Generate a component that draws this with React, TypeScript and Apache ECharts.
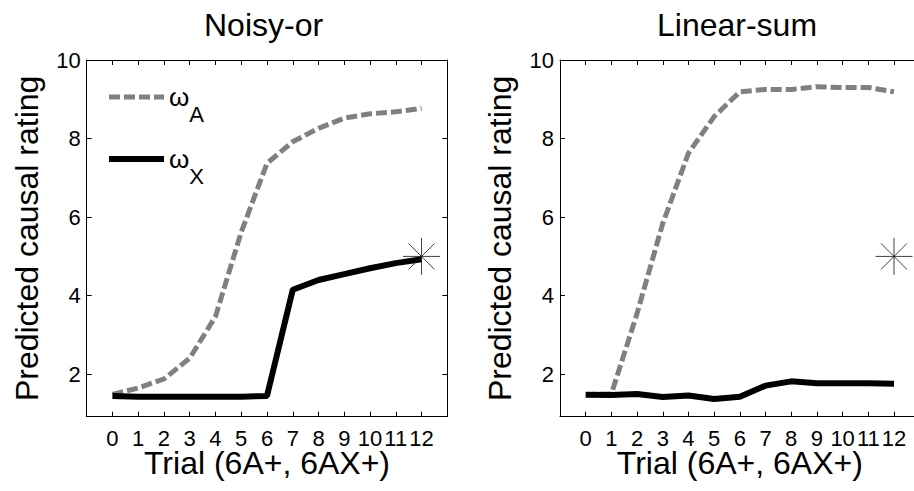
import React, { useEffect, useRef } from "react";
import * as echarts from "echarts";

const trials = [0, 1, 2, 3, 4, 5, 6, 7, 8, 9, 10, 11, 12];
const noisyOrA = [1.49, 1.65, 1.88, 2.41, 3.47, 5.62, 7.37, 7.92, 8.26, 8.52, 8.63, 8.68, 8.77];
const noisyOrX = [1.45, 1.43, 1.43, 1.43, 1.43, 1.43, 1.45, 4.15, 4.4, 4.55, 4.7, 4.83, 4.93];
const linearSumA = [1.48, 1.5, 3.55, 5.84, 7.63, 8.56, 9.19, 9.25, 9.25, 9.32, 9.3, 9.3, 9.19];
const linearSumX = [1.48, 1.47, 1.5, 1.42, 1.46, 1.37, 1.43, 1.71, 1.82, 1.77, 1.77, 1.77, 1.76];
const observedTrial = 12;
const observedRating = 5;
const yTickValues = [2, 4, 6, 8, 10];
const panelTitles = ["Noisy-or", "Linear-sum"];
const xAxisName = "Trial (6A+, 6AX+)";
const yAxisName = "Predicted causal rating";
const seriesNames = ["ωA", "ωX"];

const FONT = "'Liberation Sans', Arial, Helvetica, sans-serif";

const grids = [
  { left: 86.7, top: 60, width: 360.6, height: 356.7 },
  { left: 560, top: 60, width: 359.7, height: 356.7 },
];

const dashedStyle = { color: "#808080", width: 5, type: [11, 4] };
const solidStyle = { color: "#000", width: 6, type: "solid" };

function buildOption() {
  const xAxes: any[] = [];
  const yAxes: any[] = [];
  grids.forEach((_, g) => {
    const baseX = {
      type: "value",
      gridIndex: g,
      min: -1,
      max: 13,
      splitLine: { show: false },
      axisLine: { show: true, onZero: false, lineStyle: { color: "#000", width: 1 } },
      axisTick: { show: true, inside: true, length: 5, customValues: trials, lineStyle: { color: "#000", width: 1 } },
    };
    xAxes.push({
      ...baseX,
      position: "bottom",
      axisLabel: { show: true, customValues: trials, fontSize: 22, color: "#000", margin: 11, fontFamily: FONT },
      name: xAxisName,
      nameLocation: "middle",
      nameGap: 30,
      nameMoveOverlap: false,
      nameTextStyle: { fontSize: 32, color: "#000", fontFamily: FONT },
    });
    xAxes.push({ ...baseX, position: "top", axisLabel: { show: false } });
    const baseY = {
      type: "value",
      gridIndex: g,
      min: 0.92,
      max: 10,
      splitLine: { show: false },
      axisLine: { show: true, onZero: false, lineStyle: { color: "#000", width: 1 } },
      axisTick: { show: true, inside: true, length: 5, customValues: yTickValues, lineStyle: { color: "#000", width: 1 } },
    };
    yAxes.push({
      ...baseY,
      position: "left",
      axisLabel: { show: true, customValues: yTickValues, fontSize: 22, color: "#000", margin: 6, fontFamily: FONT },
      name: yAxisName,
      nameLocation: "middle",
      nameGap: 44,
      nameMoveOverlap: false,
      nameTextStyle: { fontSize: 32, color: "#000", fontFamily: FONT },
    });
    yAxes.push({ ...baseY, position: "right", axisLabel: { show: false } });
  });

  const panels = [
    [noisyOrA, noisyOrX],
    [linearSumA, linearSumX],
  ];
  const series: any[] = [];
  panels.forEach((pair, g) => {
    series.push({
      type: "line",
      name: seriesNames[0],
      xAxisIndex: g * 2,
      yAxisIndex: g * 2,
      data: trials.map((t, i) => [t, pair[0][i]]),
      symbol: "none",
      smooth: false,
      lineStyle: dashedStyle,
      itemStyle: { color: "transparent" },
      z: 2,
    });
    series.push({
      type: "line",
      name: seriesNames[1],
      xAxisIndex: g * 2,
      yAxisIndex: g * 2,
      data: trials.map((t, i) => [t, pair[1][i]]),
      symbol: "none",
      lineStyle: solidStyle,
      itemStyle: { color: "transparent" },
      z: 3,
    });
    series.push({
      type: "scatter",
      name: "observed",
      xAxisIndex: g * 2,
      yAxisIndex: g * 2,
      data: [[observedTrial, observedRating]],
      symbol: "path://M10,0L10,20M0,10L20,10M3,3L17,17M3,17L17,3",
      symbolSize: 37,
      itemStyle: { color: "transparent", borderColor: "#111", borderWidth: 1 },
      z: 4,
    });
  });

  return {
    animation: false,
    backgroundColor: "#fff",
    title: [
      { text: panelTitles[0], left: 204, top: 9, padding: 0, textStyle: { fontSize: 32, fontWeight: "normal", color: "#000", fontFamily: FONT } },
      { text: panelTitles[1], left: 657, top: 9, padding: 0, textStyle: { fontSize: 32, fontWeight: "normal", color: "#000", fontFamily: FONT } },
    ],
    legend: {
      data: [
        { name: seriesNames[0], lineStyle: { ...dashedStyle } },
        { name: seriesNames[1], lineStyle: { ...solidStyle } },
      ],
      orient: "vertical",
      left: 106,
      top: 84,
      padding: 0,
      itemWidth: 55,
      itemHeight: 14,
      itemGap: 21,
      selectedMode: false,
      itemStyle: { color: "transparent", borderColor: "transparent", borderWidth: 0, opacity: 0 },
      formatter: (name: string) => (name === seriesNames[0] ? "{w|ω}{s|A}" : "{w|ω}{s|X}"),
      textStyle: {
        color: "#000",
        fontFamily: FONT,
        rich: {
          w: { fontSize: 26, color: "#000", fontFamily: FONT, lineHeight: 56, verticalAlign: "middle" },
          s: { fontSize: 22, color: "#000", fontFamily: FONT, lineHeight: 22, verticalAlign: "bottom" },
        },
      },
    },
    grid: grids.map((g) => ({ ...g, outerBoundsMode: "none", containLabel: false })),
    xAxis: xAxes,
    yAxis: yAxes,
    series,
  };
}

export default function App() {
  const ref = useRef<HTMLDivElement>(null);
  useEffect(() => {
    if (!ref.current) return;
    const chart = echarts.init(ref.current, undefined, { renderer: "svg" });
    chart.setOption(buildOption() as any);
    return () => chart.dispose();
  }, []);
  return (
    <div
      ref={ref}
      style={{ position: "fixed", left: 0, top: 0, width: 914, height: 491, background: "#fff" }}
    />
  );
}
